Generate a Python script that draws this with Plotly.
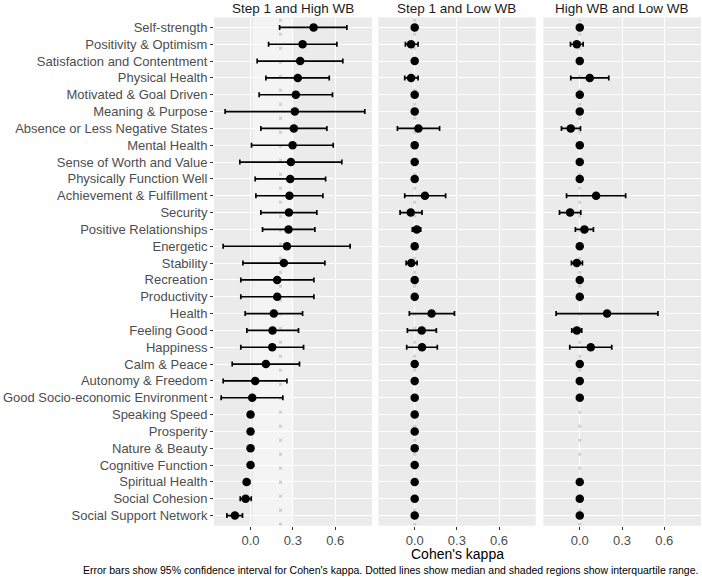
import numpy as np
import plotly.graph_objects as go

categories = [
    "Self-strength", "Positivity & Optimism", "Satisfaction and Contentment",
    "Physical Health", "Motivated & Goal Driven", "Meaning & Purpose",
    "Absence or Less Negative States", "Mental Health", "Sense of Worth and Value",
    "Physically Function Well", "Achievement & Fulfillment", "Security",
    "Positive Relationships", "Energetic", "Stability", "Recreation",
    "Productivity", "Health", "Feeling Good", "Happiness", "Calm & Peace",
    "Autonomy & Freedom", "Good Socio-economic Environment", "Speaking Speed",
    "Prosperity", "Nature & Beauty", "Cognitive Function", "Spiritual Health",
    "Social Cohesion", "Social Support Network",
]

panel_titles = ["Step 1 and High WB", "Step 1 and Low WB", "High WB and Low WB"]

# Step 1 and High WB
est1 = [0.447, 0.369, 0.352, 0.335, 0.321, 0.314, 0.307, 0.298, 0.286, 0.281,
        0.276, 0.272, 0.269, 0.258, 0.236, 0.189, 0.189, 0.165, 0.156, 0.154,
        0.109, 0.033, 0.012, 0.0, 0.0, 0.0, 0.0, -0.028, -0.035, -0.111]
lo1 = [0.206, 0.128, 0.047, 0.109, 0.061, -0.180, 0.073, 0.007, -0.076, 0.033,
       0.038, 0.073, 0.085, -0.194, -0.054, -0.069, -0.069, -0.038, -0.026, -0.069,
       -0.130, -0.194, -0.208, 0.0, 0.0, 0.0, 0.0, -0.047, -0.073, -0.168]
hi1 = [0.683, 0.612, 0.654, 0.558, 0.581, 0.810, 0.541, 0.586, 0.647, 0.532,
       0.513, 0.470, 0.456, 0.706, 0.527, 0.449, 0.449, 0.369, 0.340, 0.376,
       0.347, 0.258, 0.229, 0.0, 0.0, 0.0, 0.0, -0.007, 0.005, -0.057]

# Step 1 and Low WB
est2 = [0.0, -0.026, 0.0, -0.026, 0.0, 0.0, 0.026, 0.0, 0.0, 0.0,
        0.073, -0.028, 0.014, 0.0, -0.024, 0.0, 0.0, 0.120, 0.050, 0.052,
        0.0, 0.0, 0.0, 0.0, 0.0, 0.0, 0.0, 0.0, 0.0, 0.0]
lo2 = [0.0, -0.066, 0.0, -0.071, 0.0, 0.0, -0.123, 0.0, 0.0, 0.0,
       -0.071, -0.104, -0.017, 0.0, -0.061, 0.0, 0.0, -0.038, -0.052, -0.057,
       0.0, 0.0, 0.0, 0.0, 0.0, 0.0, 0.0, 0.0, 0.0, 0.0]
hi2 = [0.0, 0.024, 0.0, 0.024, 0.0, 0.0, 0.177, 0.0, 0.0, 0.0,
       0.220, 0.052, 0.043, 0.0, 0.017, 0.0, 0.0, 0.283, 0.154, 0.161,
       0.0, 0.0, 0.0, 0.0, 0.0, 0.0, 0.0, 0.0, 0.0, 0.0]

# High WB and Low WB (None = not estimated)
est3 = [0.0, -0.021, 0.0, 0.071, 0.0, 0.0, -0.064, 0.0, 0.0, 0.0,
        0.116, -0.069, 0.033, 0.0, -0.021, 0.0, 0.0, 0.194, -0.021, 0.078,
        0.0, 0.0, 0.0, None, None, None, None, 0.0, 0.0, 0.0]
lo3 = [0.0, -0.066, 0.0, -0.064, 0.0, 0.0, -0.130, 0.0, 0.0, 0.0,
       -0.094, -0.144, -0.031, 0.0, -0.059, 0.0, 0.0, -0.168, -0.057, -0.071,
       0.0, 0.0, 0.0, None, None, None, None, 0.0, 0.0, 0.0]
hi3 = [0.0, 0.024, 0.0, 0.206, 0.0, 0.0, 0.005, 0.0, 0.0, 0.0,
       0.326, 0.007, 0.097, 0.0, 0.019, 0.0, 0.0, 0.555, 0.014, 0.227,
       0.0, 0.0, 0.0, None, None, None, None, 0.0, 0.0, 0.0]

x_ticks = [0.0, 0.3, 0.6]
x_ticktext = ["0.0", "0.3", "0.6"]

W, H = 702, 577
FONT = "Liberation Sans, Arial, Helvetica, sans-serif"

panels = [(est1, lo1, hi1), (est2, lo2, hi2), (est3, lo3, hi3)]
px_domains = [(214, 372), (378.3, 535.7), (543.3, 701)]
y_top, y_bot = 17.3, 525.7
ydom = [1 - y_bot / H, 1 - y_top / H]
xrange_ = [-0.259, 0.861]
n = len(categories)
cat_pos = list(range(n))
yrange = [n - 0.4, -0.6]

fig = go.Figure()
shapes = []
annotations = []

for i, (est, lo, hi) in enumerate(panels):
    sfx = "" if i == 0 else str(i + 1)
    xa, ya = "x" + sfx, "y" + sfx
    ys, xs, ep, em = [], [], [], []
    for k, (e, l, h) in enumerate(zip(est, lo, hi)):
        if e is None:
            continue
        ys.append(cat_pos[k])
        xs.append(e)
        ep.append(h - e)
        em.append(e - l)
    vals = np.array([v for v in est if v is not None], dtype=float)
    med = float(np.median(vals))
    q1, q3 = np.percentile(vals, [25, 75])
    shapes.append(dict(type="rect", xref=xa, yref=ya + " domain", x0=q1, x1=q3,
                       y0=0, y1=1, fillcolor="rgba(255,255,255,0.45)",
                       line=dict(width=0), layer="below"))
    # dotted median line (drawn as a trace so it sits under the points)
    fig.add_trace(go.Scatter(
        x=[med, med], y=[yrange[0], yrange[1]], xaxis=xa, yaxis=ya, mode="lines",
        line=dict(color="#D0D0D0", width=3, dash="3px,11px"),
        hoverinfo="skip", showlegend=False,
    ))
    fig.add_trace(go.Scatter(
        x=xs, y=ys, xaxis=xa, yaxis=ya, mode="markers",
        marker=dict(color="black", size=8.5),
        error_x=dict(type="data", symmetric=False, array=ep, arrayminus=em,
                     color="black", thickness=1.7, width=2.5),
        showlegend=False, cliponaxis=False,
        text=[categories[k] for k in ys], hoverinfo="x+text",
    ))
    a, b = px_domains[i]
    fig.layout["xaxis" + sfx] = dict(
        domain=[a / W, b / W], range=xrange_, anchor=ya, autorange=False,
        tickvals=x_ticks, ticktext=x_ticktext, showgrid=True, gridcolor="white",
        gridwidth=1.2, zeroline=False, ticks="outside", ticklen=3,
        tickcolor="#333333", tickwidth=1,
        tickfont=dict(family=FONT, size=13, color="#4D4D4D"), showline=False,
    )
    yax = dict(
        domain=ydom, anchor=xa, range=yrange, autorange=False,
        tickvals=cat_pos, ticktext=categories,
        showgrid=True, gridcolor="white", gridwidth=1.2, zeroline=False,
        showline=False,
    )
    if i == 0:
        yax.update(ticks="outside", ticklen=3, tickcolor="#333333", tickwidth=1,
                   tickfont=dict(family=FONT, size=13, color="#4D4D4D"))
    else:
        yax.update(showticklabels=False, ticks="")
    fig.layout["yaxis" + sfx] = yax
    annotations.append(dict(text=panel_titles[i], x=(a + b) / 2 / W, y=1 - 8.5 / H,
                            xref="paper", yref="paper", showarrow=False,
                            xanchor="center", yanchor="middle",
                            font=dict(family=FONT, size=13.5, color="#1A1A1A")))

annotations.append(dict(text="Cohen's kappa", x=457.5 / W, y=1 - 554 / H,
                        xref="paper", yref="paper", showarrow=False,
                        xanchor="center", yanchor="middle",
                        font=dict(family=FONT, size=14, color="black")))
annotations.append(dict(
    text="Error bars show 95% confidence interval for Cohen's kappa. Dotted lines show median and shaded regions show interquartile range.",
    x=700 / W, y=1 - 570 / H, xref="paper", yref="paper", showarrow=False,
    xanchor="right", yanchor="middle",
    font=dict(family=FONT, size=10.5, color="black")))

fig.update_layout(
    width=W, height=H, margin=dict(l=0, r=0, t=0, b=0, autoexpand=False),
    plot_bgcolor="#EBEBEB", paper_bgcolor="white",
    shapes=shapes, annotations=annotations, showlegend=False,
    font=dict(family=FONT),
)

fig.write_html(
    "out.html",
    config={"displayModeBar": False},
    post_script="document.body.style.margin='0';document.body.style.padding='0';",
)
